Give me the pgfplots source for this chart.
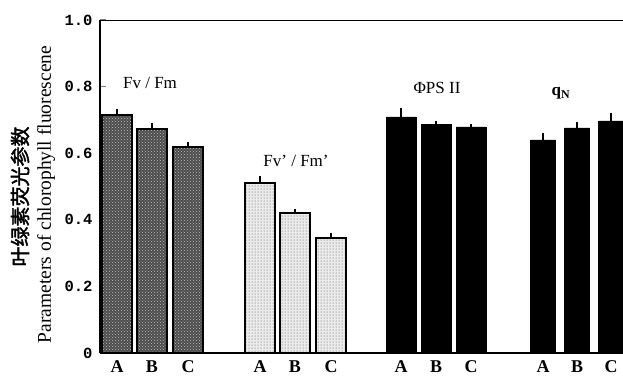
\documentclass[border=0pt]{standalone}
\usepackage{pgfplots}
\pgfplotsset{compat=1.18}
\usetikzlibrary{patterns}
\usepackage{fontspec}
\setmainfont{Liberation Serif}
\setmonofont{Liberation Mono}
\newfontfamily\cjk{Noto Sans CJK SC}[AutoFakeBold=2]
\begin{document}
\begin{tikzpicture}
\begin{axis}[
  scale only axis, width=523pt, height=333pt,
  xmin=100, xmax=623, ymin=0, ymax=1,
  axis x line*=bottom, axis y line*=left,
  axis line style={line width=2pt, -},
  clip=true,
  xtick={117,152,188,260,295,331,401,436,471,543,577,611},
  xticklabels={A,B,C,A,B,C,A,B,C,A,B,C},
  x tick label style={font=\fontsize{18}{19}\selectfont\bfseries, yshift=-4pt},
  xtick style={draw=none},
  ytick={0,0.2,0.4,0.6,0.8,1.0},
  yticklabels={0,0.2,0.4,0.6,0.8,1.0},
  y tick label style={font=\fontsize{15.5}{16}\selectfont\ttfamily\bfseries, xshift=-4pt},
  /pgf/number format/assume math mode=true,
  ytick style={line width=1.5pt},
  tick align=inside, major tick length=6pt,
  bar width=30,
  error bars/y dir=plus, error bars/y explicit,
  error bars/error mark=none,
  error bars/error bar style={line width=1.5pt},
]
% Fv/Fm
\addplot[ybar, bar shift=0, fill=black!70, draw=black, line width=1.5pt,
  postaction={pattern=crosshatch dots, pattern color=white!75!black}]
  coordinates {(117,0.715) +- (0,0.018) (152,0.673) +- (0,0.018) (188,0.619) +- (0,0.016)};
% Fv'/Fm'
\addplot[ybar, bar shift=0, fill=black!8, draw=black, line width=1.5pt,
  postaction={pattern=dots, pattern color=black!70}]
  coordinates {(260,0.51) +- (0,0.022) (295,0.42) +- (0,0.012) (331,0.345) +- (0,0.014)};
% PhiPSII
\addplot[ybar, bar shift=0, fill=black, draw=black]
  coordinates {(401,0.709) +- (0,0.026) (436,0.687) +- (0,0.010) (471,0.679) +- (0,0.008)};
% qN
\addplot[ybar, bar shift=0, fill=black, draw=black, bar width=25]
  coordinates {(543,0.64) +- (0,0.02) (577,0.676) +- (0,0.018) (611,0.697) +- (0,0.023)};
\draw[line width=2pt] (rel axis cs:0,1) -- (rel axis cs:1,1);
\node[font=\fontsize{17}{18}\selectfont] at (axis cs:150,0.81) {Fv / Fm};
\node[font=\fontsize{17}{18}\selectfont] at (axis cs:296,0.578) {Fv' / Fm'};
\node[font=\fontsize{17}{18}\selectfont] at (axis cs:437,0.796) {ΦPS II};
\node[font=\fontsize{17}{18}\selectfont\bfseries] at (axis cs:561,0.78) {q$_{\mathbf{N}}$};
\end{axis}
\node[rotate=90, font=\fontsize{20}{20}\selectfont\cjk\bfseries]
  at ([shift={(-80pt,-10pt)}]current axis.west) {叶绿素荧光参数};
\node[rotate=90, font=\fontsize{19.5}{20}\selectfont]
  at ([shift={(-54pt,-8pt)}]current axis.west) {Parameters of chlorophyll fluorescene};
\pgfresetboundingbox
\path ([shift={(-100pt,-28pt)}]current axis.south west) rectangle ([shift={(0pt,20pt)}]current axis.north east);
\end{tikzpicture}
\end{document}
